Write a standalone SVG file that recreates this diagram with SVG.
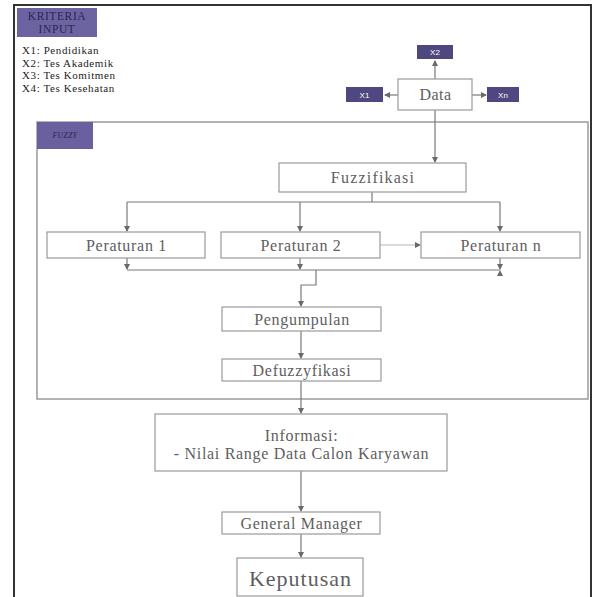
<svg xmlns="http://www.w3.org/2000/svg" width="595" height="597" viewBox="0 0 595 597">
  <style>
    .box { fill: #ffffff; stroke: #9a9a9a; stroke-width: 1.2; }
    .lbl { font-family: "Liberation Serif", "Times New Roman", serif; fill: #5e5e5e; text-anchor: middle; font-size: 16px; letter-spacing: 0.7px; }
    .tag { fill: #4f4880; }
    .tagtxt { font-family: "Liberation Sans", Arial, sans-serif; font-size: 8px; fill: #ffffff; text-anchor: middle; }
    .wire { fill: none; stroke: #7a7a7a; stroke-width: 1.2; }
    .wire-light { fill: none; stroke: #b5b5b5; stroke-width: 1.2; }
    .list { font-family: "Liberation Serif", "Times New Roman", serif; font-size: 11px; letter-spacing: 0.6px; fill: #222; }
    .head { font-family: "Liberation Serif", "Times New Roman", serif; font-size: 11.5px; letter-spacing: 0.6px; fill: #2a2550; text-anchor: middle; }
  </style>
  <defs>
    <marker id="arr" markerWidth="6" markerHeight="6" refX="5" refY="3" orient="auto" markerUnits="userSpaceOnUse">
      <path d="M0,0 L6,3 L0,6 z" fill="#6a6a6a"/>
    </marker>
  </defs>

  <rect width="595" height="597" fill="#ffffff"/>

  <!-- outer frame -->
  <path d="M14,597 L14,5 L591,5 L591,597" fill="none" stroke="#333333" stroke-width="2"/>

  <!-- criteria legend -->
  <g id="kriteria">
    <rect x="17" y="8" width="80" height="29" fill="#6c63a3"/>
    <text class="head" x="57" y="20">KRITERIA</text>
    <text class="head" x="57" y="33">INPUT</text>
    <text class="list" x="22" y="54">X1: Pendidikan</text>
    <text class="list" x="22" y="67">X2: Tes Akademik</text>
    <text class="list" x="22" y="79">X3: Tes Komitmen</text>
    <text class="list" x="22" y="92">X4: Tes Kesehatan</text>
  </g>

  <!-- fuzzy frame -->
  <g id="fuzzy">
    <rect x="37" y="122" width="551" height="277" fill="none" stroke="#9a9a9a" stroke-width="1.5"/>
    <rect x="37" y="122" width="56" height="27" fill="#6a5f9f"/>
    <text x="65" y="138" font-family="Liberation Serif, serif" font-size="7.5" font-style="italic" letter-spacing="0.5" fill="#2a2550" text-anchor="middle">FUZZY</text>
  </g>

  <!-- connectors -->
  <g id="connectors">
    <line class="wire" x1="435" y1="79" x2="435" y2="61" marker-end="url(#arr)"/>
    <line class="wire" x1="398" y1="95" x2="385" y2="95" marker-end="url(#arr)"/>
    <line class="wire" x1="472" y1="95" x2="486" y2="95" marker-end="url(#arr)"/>
    <line class="wire" x1="435" y1="110" x2="435" y2="162" marker-end="url(#arr)"/>

    <path class="wire" d="M372,192 L372,202 M127,202 L500,202"/>
    <line class="wire" x1="127" y1="202" x2="127" y2="231" marker-end="url(#arr)"/>
    <line class="wire" x1="300" y1="202" x2="300" y2="231" marker-end="url(#arr)"/>
    <line class="wire" x1="500" y1="202" x2="500" y2="231" marker-end="url(#arr)"/>
    <line class="wire-light" x1="380" y1="245" x2="420" y2="245" marker-end="url(#arr)"/>

    <line class="wire" x1="127" y1="258" x2="127" y2="269" marker-end="url(#arr)"/>
    <line class="wire" x1="300" y1="258" x2="300" y2="269" marker-end="url(#arr)"/>
    <line class="wire" x1="500" y1="258" x2="500" y2="269" marker-end="url(#arr)"/>
    <path class="wire" d="M127,270 L500,270"/>
    <path d="M497,276 L500,270 L503,276 z" fill="#6a6a6a"/>

    <path class="wire" d="M316,270 L316,285 L301,285 L301,306" marker-end="url(#arr)"/>
    <line class="wire" x1="301" y1="331" x2="301" y2="358" marker-end="url(#arr)"/>
    <line class="wire" x1="301" y1="381" x2="301" y2="413" marker-end="url(#arr)"/>
    <line class="wire" x1="301" y1="471" x2="301" y2="511" marker-end="url(#arr)"/>
    <line class="wire" x1="301" y1="534" x2="301" y2="557" marker-end="url(#arr)"/>
  </g>

  <!-- data and its outputs -->
  <g id="x2">
    <rect class="tag" x="417" y="45" width="36" height="14"/>
    <text class="tagtxt" x="435" y="55">X2</text>
  </g>
  <g id="x1">
    <rect class="tag" x="346" y="87" width="37" height="15"/>
    <text class="tagtxt" x="364.5" y="97.5">X1</text>
  </g>
  <g id="xn">
    <rect class="tag" x="487" y="87" width="32" height="15"/>
    <text class="tagtxt" x="503" y="97.5">Xn</text>
  </g>
  <g id="data">
    <rect class="box" x="398" y="79" width="74" height="31"/>
    <text class="lbl" x="435.5" y="100" style="letter-spacing:0.5px">Data</text>
  </g>

  <g id="fuzzifikasi">
    <rect class="box" x="279" y="163" width="187" height="29"/>
    <text class="lbl" x="373" y="183" style="letter-spacing:1.2px">Fuzzifikasi</text>
  </g>

  <g id="peraturan1">
    <rect class="box" x="47" y="232" width="158" height="26"/>
    <text class="lbl" x="126.5" y="250.5">Peraturan 1</text>
  </g>
  <g id="peraturan2">
    <rect class="box" x="221" y="232" width="159" height="26"/>
    <text class="lbl" x="301" y="250.5">Peraturan 2</text>
  </g>
  <g id="peraturann">
    <rect class="box" x="421" y="232" width="159" height="26"/>
    <text class="lbl" x="501" y="250.5">Peraturan n</text>
  </g>

  <g id="pengumpulan">
    <rect class="box" x="222" y="307" width="159" height="24"/>
    <text class="lbl" x="302" y="324.5">Pengumpulan</text>
  </g>
  <g id="defuzzyfikasi">
    <rect class="box" x="222" y="359" width="159" height="22"/>
    <text class="lbl" x="302" y="375.5">Defuzzyfikasi</text>
  </g>

  <g id="informasi">
    <rect class="box" x="155" y="414" width="292" height="57"/>
    <text class="lbl" x="301.5" y="441">Informasi:</text>
    <text class="lbl" x="301.5" y="459">- Nilai Range Data Calon Karyawan</text>
  </g>

  <g id="gm">
    <rect class="box" x="222" y="512" width="158" height="22"/>
    <text class="lbl" x="301.5" y="528.5">General Manager</text>
  </g>

  <g id="keputusan">
    <rect class="box" x="237" y="558" width="126" height="38"/>
    <text class="lbl" x="300.5" y="586" style="font-size:22px;letter-spacing:1px">Keputusan</text>
  </g>
</svg>
